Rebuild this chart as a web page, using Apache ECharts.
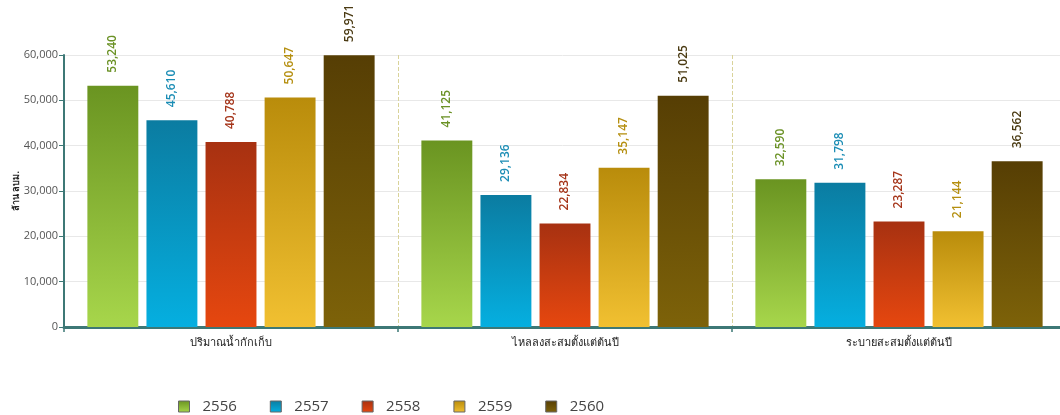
<!DOCTYPE html>
<html>
<head>
<meta charset="utf-8">
<script src="https://cdn.jsdelivr.net/npm/echarts@6/dist/echarts.min.js"></script>
<style>
    html, body { margin: 0; padding: 0; background: #fff; }
    #main { width: 1060px; height: 415px; }
</style>
</head>
<body>
<div id="main"></div>
<script type="text/javascript">
    // หมวดหมู่และข้อมูล (ล้าน ลบม.)
    var categories = ['ปริมาณน้ำกักเก็บ', 'ไหลลงสะสมตั้งแต่ต้นปี', 'ระบายสะสมตั้งแต่ต้นปี'];
    var years = ['2556', '2557', '2558', '2559', '2560'];
    var v2556 = [53240, 41125, 32590];
    var v2557 = [45610, 29136, 31798];
    var v2558 = [40788, 22834, 23287];
    var v2559 = [50647, 35147, 21144];
    var v2560 = [59971, 51025, 36562];
    var yTicks = [0, 10000, 20000, 30000, 40000, 50000, 60000];

    var values = [v2556, v2557, v2558, v2559, v2560];
    // [บน, ล่าง, สีตัวเลข]
    var colors = [
        ['#6a9421', '#a7d64b', '#6b9226'],
        ['#0b7ca1', '#05afe0', '#1b8db5'],
        ['#a73111', '#e6470f', '#a5351a'],
        ['#b98c0b', '#f1c031', '#b58f10'],
        ['#563e04', '#7d6209', '#4a3a12']
    ];
    var font = '"Open Sans", "Noto Sans", "DejaVu Sans", sans-serif';

    var chart = echarts.init(document.getElementById('main'), null, { renderer: 'canvas' });

    var series = [];
    for (var i = 0; i < years.length; i++) {
        series.push({
            name: years[i],
            type: 'bar',
            data: values[i],
            barGap: '16%',
            barCategoryGap: '14%',
            itemStyle: {
                color: new echarts.graphic.LinearGradient(0, 0, 0, 1, [
                    { offset: 0, color: colors[i][0] },
                    { offset: 1, color: colors[i][1] }
                ])
            },
            label: {
                show: true,
                position: 'top',
                rotate: 90,
                align: 'left',
                verticalAlign: 'middle',
                distance: 13,
                color: colors[i][2],
                fontSize: 12,
                fontWeight: 600,
                fontFamily: font,
                formatter: function (p) {
                    return p.value.toLocaleString('en-US');
                }
            }
        });
    }

    var option = {
        animation: false,
        textStyle: { fontFamily: font },
        grid: {
            left: 64,
            right: -6,
            top: 55,
            bottom: 88,
            outerBoundsMode: 'none'
        },
        legend: {
            data: years,
            left: 173,
            top: 394,
            icon: 'rect',
            itemWidth: 11,
            itemHeight: 11,
            itemGap: 33,
            itemStyle: { borderColor: '#666', borderWidth: 1 },
            textStyle: {
                fontSize: 15,
                color: '#444',
                padding: [0, 0, 0, 8]
            }
        },
        xAxis: {
            type: 'category',
            data: categories,
            axisLine: { lineStyle: { color: '#3d7876', width: 3 } },
            axisTick: { show: true, length: 5, lineStyle: { color: '#3d7876', width: 1.5 } },
            axisLabel: { color: '#222', fontSize: 11, margin: 10 },
            splitLine: {
                show: true,
                lineStyle: { color: '#d9d39a', type: 'dashed', width: 1 }
            }
        },
        yAxis: {
            type: 'value',
            min: yTicks[0],
            max: yTicks[yTicks.length - 1],
            interval: yTicks[1] - yTicks[0],
            name: 'ล้าน ลบม.',
            nameLocation: 'middle',
            nameRotate: 90,
            nameGap: 43,
            nameMoveOverlap: false,
            nameTextStyle: { fontSize: 9, fontWeight: 'bold', color: '#222' },
            axisLine: { show: true, lineStyle: { color: '#3d7876', width: 2 } },
            axisTick: { show: true, length: 5, lineStyle: { color: '#3d7876' } },
            axisLabel: {
                color: '#555',
                fontSize: 11,
                margin: 6,
                formatter: function (v) { return v.toLocaleString('en-US'); }
            },
            splitLine: { lineStyle: { color: '#e8e8e8' } }
        },
        series: series
    };

    chart.setOption(option);
</script>
</body>
</html>
